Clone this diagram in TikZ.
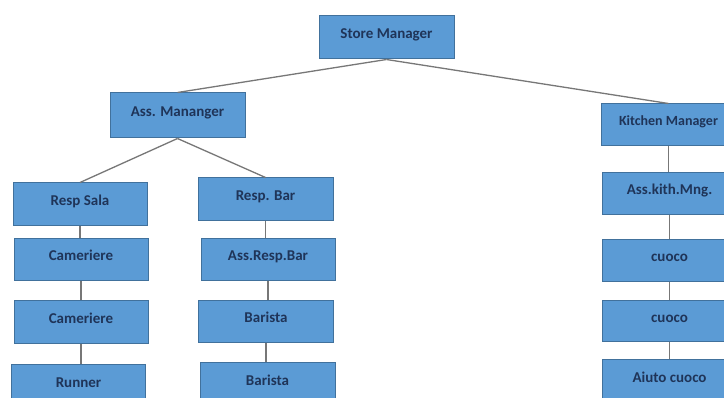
\documentclass[tikz,border=0pt]{standalone}
\usepackage{fontspec}
\setmainfont{Carlito}
\begin{document}
\begin{tikzpicture}[x=1pt,y=-1pt,
  orgbox/.style={draw=boxedge, fill=boxfill, line width=1pt, inner sep=0pt,
    minimum width=135pt, minimum height=43pt, text=boxtext,
    font=\fontsize{15}{15}\selectfont\bfseries, text height=10pt, text depth=8pt},
  link/.style={draw=linkgray, line width=1.3pt}]
\definecolor{boxfill}{HTML}{5B9BD5}
\definecolor{boxedge}{HTML}{41719C}
\definecolor{boxtext}{HTML}{1F3458}
\definecolor{linkgray}{HTML}{777777}
\useasboundingbox (0,0) rectangle (724,398);
\clip (0,0) rectangle (724,398);
\fill[white] (0,0) rectangle (724,398);

% top levels
\node[orgbox] (sm) at (386.5,37.5) {Store Manager};
\node[orgbox, minimum height=45pt] (am) at (177.5,115.5) {Ass. Mananger};
\node[orgbox, minimum height=42pt, font=\fontsize{14}{14}\selectfont\bfseries] (km) at (668.5,125) {Kitchen Manager};

% hall column
\node[orgbox, minimum width=134pt] (rs) at (80,204.5) {Resp Sala};
\node[orgbox, minimum width=134pt, minimum height=42pt] (cam1) at (81,260) {Cameriere};
\node[orgbox, minimum width=134pt] (cam2) at (81,322.5) {Cameriere};
\node[orgbox, minimum width=134pt] (run) at (78.5,386.5) {Runner};

% bar column
\node[orgbox] (rb) at (265.5,199.5) {Resp. Bar};
\node[orgbox, minimum width=134pt, minimum height=42pt] (arb) at (268,260) {Ass.Resp.Bar};
\node[orgbox, minimum height=42pt] (b1) at (266,322) {Barista};
\node[orgbox] (b2) at (267.5,384.5) {Barista};

% kitchen column
\node[orgbox, minimum height=42pt] (akm) at (669.5,194) {Ass.kith.Mng.};
\node[orgbox, minimum height=42pt] (c1) at (669.5,261) {cuoco};
\node[orgbox, minimum height=41pt] (c2) at (669.5,321.5) {cuoco};
\node[orgbox] (ac) at (669.5,381.5) {Aiuto cuoco};

% connectors
\draw[link] (sm.south) -- (am.north);
\draw[link] (sm.south) -- (km.north);
\draw[link] (am.south) -- (rs.north);
\draw[link] (am.south) -- (rb.north);
\foreach \a/\b in {rs/cam1, cam1/cam2, cam2/run, rb/arb, arb/b1, b1/b2, km/akm, akm/c1, c1/c2, c2/ac}
  \draw[link] (\a.south) -- (\a.south |- \b.north);
\end{tikzpicture}
\end{document}
